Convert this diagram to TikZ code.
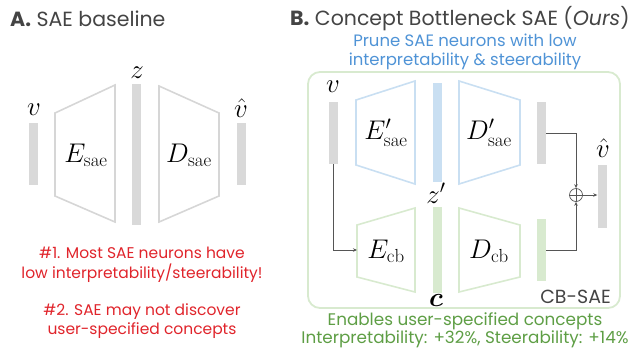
\RequirePackage{fix-cm}
\documentclass[tikz,border=0pt]{standalone}
\usepackage{amsmath,bm}
\usepackage{fontspec}
\newfontfamily\popfont{Poppins}
\usetikzlibrary{arrows.meta}
\definecolor{bargray}{HTML}{D9D9D9}
\definecolor{trapgray}{HTML}{D6D6D6}
\definecolor{lblue}{HTML}{C9DFF2}
\definecolor{lgreen}{HTML}{D8EACF}
\definecolor{redtxt}{HTML}{E0242B}
\definecolor{bluetxt}{HTML}{4F93D6}
\definecolor{greentxt}{HTML}{5E9E45}
\definecolor{titletxt}{HTML}{444444}
\definecolor{linegray}{HTML}{555555}
\tikzset{
  bar/.style={fill=#1, draw=none, inner sep=0, minimum width=9pt},
  trap/.style={draw=#1, line width=1.6pt, line join=miter},
  mlabel/.style={inner sep=0, font=\fontsize{27}{29}\selectfont},
  conn/.style={draw=linegray, line width=0.7pt, -{Stealth[length=4pt,width=3.5pt]}},
  txt/.style={inner sep=0, align=center},
}
\begin{document}
\begin{tikzpicture}[x=1pt,y=-1pt]
\useasboundingbox (0,0) rectangle (636,349);
% ---------- A ----------
\node[txt, anchor=west, text=titletxt, font=\popfont\fontsize{20.5}{22}\selectfont] (tA) at (10,19) {\textbf{A.} SAE baseline};
\node[bar=bargray, minimum height=62pt] (vA) at (33.5,154) {};
\node[mlabel] (vAl) at (34,110) {$v$};
\draw[trap=trapgray] (55,113) -- (115,85) -- (115,222) -- (55,196) -- cycle;
\node[mlabel] (EA) at (86,155) {$E_{\mathrm{sae}}$};
\node[bar=bargray, minimum height=141pt] (zA) at (136.5,154.5) {};
\node[mlabel] (zAl) at (137,73) {$z$};
\draw[trap=trapgray] (159,86) -- (219,113) -- (219,196) -- (159,222) -- cycle;
\node[mlabel] (DA) at (189,155) {$D_{\mathrm{sae}}$};
\node[bar=bargray, minimum height=62pt] (vhA) at (241,154) {};
\node[mlabel] (vhAl) at (241,108) {$\hat{v}$};
\node[txt, text=redtxt, font=\popfont\fontsize{15.5}{20}\selectfont] (r1) at (142,265) {\#1. Most SAE neurons have\\low interpretability/steerability!};
\node[txt, text=redtxt, font=\popfont\fontsize{15.5}{19}\selectfont] (r2) at (142,321) {\#2. SAE may not discover\\user-specified concepts};
% ---------- B ----------
\node[txt, anchor=west, text=titletxt, font=\popfont\fontsize{20.5}{22}\selectfont] (tB) at (290,19) {\textbf{B.} Concept Bottleneck SAE (\textit{Ours})};
\node[txt, text=bluetxt, font=\popfont\fontsize{16.5}{19}\selectfont] (blue) at (465,51.5) {Prune SAE neurons with low\\interpretability \& steerability};
\draw[draw=lgreen, line width=1.8pt, rounded corners=12pt] (308,72) rectangle (620,308);
\node[bar=bargray, minimum height=62pt] (vB) at (333.5,133) {};
\node[mlabel] (vBl) at (333,87) {$v$};
\draw[trap=lblue] (356,100) -- (415,81) -- (415,184) -- (356,165) -- cycle;
\node[mlabel] (EB) at (386,133) {$E'_{\mathrm{sae}}$};
\node[bar=lblue, minimum height=99pt] (zB) at (437.5,132.5) {};
\node[mlabel] (zBl) at (436,193) {$z'$};
\draw[trap=lblue] (459,81) -- (520,100) -- (520,165) -- (459,184) -- cycle;
\node[mlabel] (DB) at (489,133) {$D'_{\mathrm{sae}}$};
\node[bar=bargray, minimum height=62pt] (oB) at (541.5,133) {};
\draw[trap=lgreen] (357,225) -- (415,208) -- (415,292) -- (357,277) -- cycle;
\node[mlabel] (Ecb) at (386,251) {$E_{\mathrm{cb}}$};
\coordinate (EcbL) at (357,250);
\node[bar=lgreen, minimum height=86pt] (cB) at (437.5,250) {};
\node[mlabel] (cBl) at (436,300) {$\bm{c}$};
\draw[trap=lgreen] (459,208) -- (520,225) -- (520,277) -- (459,292) -- cycle;
\node[mlabel] (Dcb) at (489,251) {$D_{\mathrm{cb}}$};
\node[bar=lgreen, minimum height=62pt] (gB) at (541.5,250) {};
\node[bar=bargray, minimum height=63pt] (vhB) at (602,196.5) {};
\node[mlabel] (vhBl) at (603,148) {$\hat{v}$};
\node[draw=linegray, line width=0.7pt, circle, minimum size=13pt, inner sep=0] (plus) at (576,195) {};
\draw[draw=linegray, line width=0.7pt] (plus.north) -- (plus.south) (plus.west) -- (plus.east);
\node[txt, anchor=east, text=titletxt, font=\popfont\fontsize{19}{21}\selectfont] (cbsae) at (611,297) {CB-SAE};
\draw[conn] (oB.east) -| (plus.north);
\draw[conn] (gB.east) -| (plus.south);
\draw[conn] (plus.east) -- (vhB.west |- plus.east);
\draw[conn] (vB.south) |- (EcbL);
\node[txt, text=greentxt, font=\popfont\fontsize{16.8}{16.5}\selectfont] (green) at (465,330) {Enables user-specified concepts\\Interpretability: +32\%, Steerability: +14\%};
\end{tikzpicture}
\end{document}
